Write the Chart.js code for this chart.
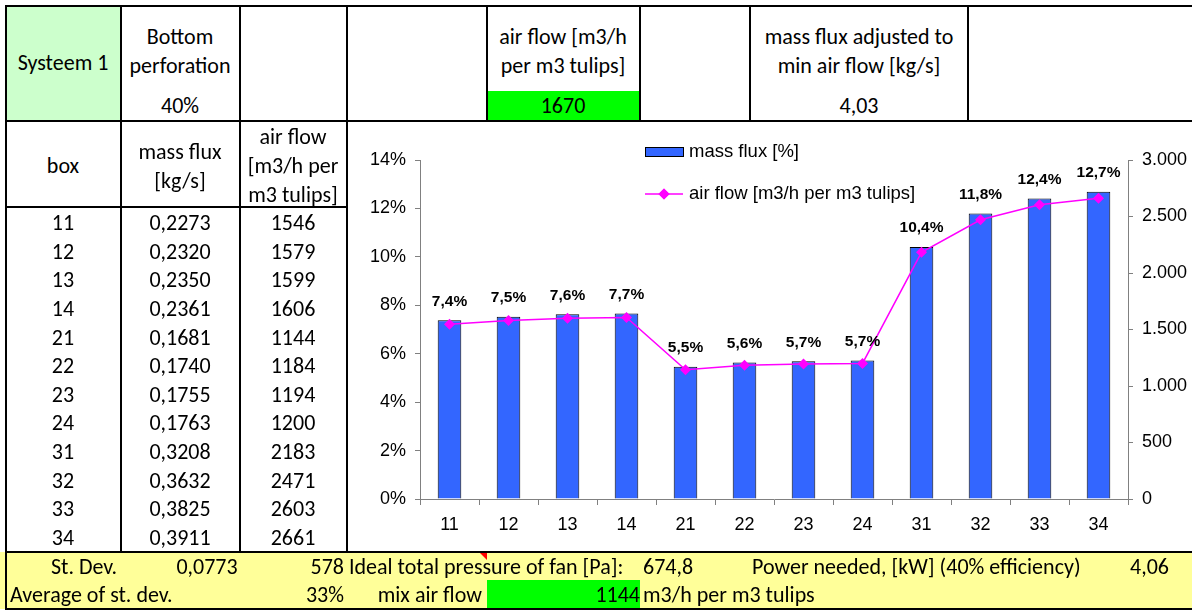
<!DOCTYPE html>
<html><head><meta charset="utf-8">
<script src="https://cdn.jsdelivr.net/npm/chart.js@4.4.1/dist/chart.umd.min.js"></script>
<style>
html,body{margin:0;padding:0;background:#fff;width:1192px;height:610px;overflow:hidden;}
#wrap{position:relative;width:1192px;height:610px;font-family:Carlito,Lato,"Liberation Sans",sans-serif;font-size:22px;color:#000;}
.t{position:absolute;white-space:nowrap;line-height:28px;height:28px;}
.fill{position:absolute;}
.hl{position:absolute;height:2px;background:#000;}
.vl{position:absolute;width:2px;background:#000;}
#chartBox{position:absolute;left:348px;top:122px;width:844px;height:429px;}
</style></head>
<body>
<div id="wrap">
  <div class="fill" style="left:6px;top:6px;width:115px;height:115px;background:#ccffcc"></div>
  <div class="fill" style="left:487px;top:91px;width:153px;height:30px;background:#00ff00"></div>
  <div class="fill" style="left:0px;top:552px;width:1192px;height:57px;background:#ffff99"></div>
  <div class="fill" style="left:487px;top:580px;width:153px;height:28px;background:#00ff00"></div>
  <div id="chartBox"><canvas id="c" width="844" height="429"></canvas></div>
</div>
<script>
// ---- data ----
const boxes = ['11','12','13','14','21','22','23','24','31','32','33','34'];
const massFlux = [0.2273,0.2320,0.2350,0.2361,0.1681,0.1740,0.1755,0.1763,0.3208,0.3632,0.3825,0.3911];
const airFlow = [1546,1579,1599,1606,1144,1184,1194,1200,2183,2471,2603,2661];
const massFluxPct = [7.38,7.53,7.63,7.66,5.46,5.64,5.69,5.72,10.41,11.79,12.41,12.69];
const pctTicks = [0,2,4,6,8,10,12,14];
const airTicks = [0,500,1000,1500,2000,2500,3000];
const seriesNames = ['mass flux [%]','air flow [m3/h per m3 tulips]'];

const headerTexts = {
  systeem:'Systeem 1', perf1:'Bottom', perf2:'perforation', perfVal:'40%',
  af1:'air flow [m3/h', af2:'per m3 tulips]', afVal:'1670',
  mf1:'mass flux adjusted to', mf2:'min air flow [kg/s]', mfVal:'4,03'
};
const colHeads = [['box'],['mass flux','[kg/s]'],['air flow','[m3/h per','m3 tulips]']];
const stats = {stDevLabel:'St. Dev.', stDev:'0,0773', stDevAir:'578', pressLabel:'Ideal total pressure of fan [Pa]:', press:'674,8',
  powerLabel:'Power needed, [kW] (40% efficiency)', power:'4,06', avgLabel:'Average of st. dev.', avg:'33%', mixLabel:'mix air flow', mix:'1144', mixUnit:'m3/h per m3 tulips'};

const wrap = document.getElementById('wrap');
function txt(s, x, yc, align){
  const d = document.createElement('div');
  d.className='t'; d.textContent=s;
  d.style.top=(yc-14)+'px';
  if(align==='c'){ d.style.left=(x-200)+'px'; d.style.width='400px'; d.style.textAlign='center'; }
  else if(align==='r'){ d.style.left=(x-400)+'px'; d.style.width='400px'; d.style.textAlign='right'; }
  else { d.style.left=x+'px'; }
  wrap.appendChild(d);
}
function hl(x1,x2,y){const d=document.createElement('div');d.className='hl';d.style.left=x1+'px';d.style.width=(x2-x1)+'px';d.style.top=(y-1)+'px';wrap.appendChild(d);}
function vl(x,y1,y2){const d=document.createElement('div');d.className='vl';d.style.left=(x-1)+'px';d.style.top=y1+'px';d.style.height=(y2-y1)+'px';wrap.appendChild(d);}

// top row
txt(headerTexts.systeem, 63, 63, 'c');
txt(headerTexts.perf1, 180, 37, 'c');
txt(headerTexts.perf2, 180, 66, 'c');
txt(headerTexts.perfVal, 180, 106, 'c');
txt(headerTexts.af1, 563, 37, 'c');
txt(headerTexts.af2, 563, 66, 'c');
txt(headerTexts.afVal, 563, 106, 'c');
txt(headerTexts.mf1, 859, 37, 'c');
txt(headerTexts.mf2, 859, 66, 'c');
txt(headerTexts.mfVal, 859, 106, 'c');
// column headers
const colCx = [63, 180, 293];
txt(colHeads[0][0], colCx[0], 166, 'c');
txt(colHeads[1][0], colCx[1], 152, 'c');
txt(colHeads[1][1], colCx[1], 181, 'c');
txt(colHeads[2][0], colCx[2], 137, 'c');
txt(colHeads[2][1], colCx[2], 166, 'c');
txt(colHeads[2][2], colCx[2], 195, 'c');
// data rows
boxes.forEach((b,i)=>{
  const y = 223 + i*28.64;
  txt(b, colCx[0], y, 'c');
  txt(massFlux[i].toFixed(4).replace('.',','), colCx[1], y, 'c');
  txt(String(airFlow[i]), colCx[2], y, 'c');
});
// stats rows
txt(stats.stDevLabel, 84, 567, 'c');
txt(stats.stDev, 207, 567, 'c');
txt(stats.stDevAir, 344, 567, 'r');
txt(stats.pressLabel, 349, 567, 'l');
txt(stats.press, 643, 567, 'l');
txt(stats.powerLabel, 752, 567, 'l');
txt(stats.power, 1130, 567, 'l');
txt(stats.avgLabel, 10, 595, 'l');
txt(stats.avg, 344, 595, 'r');
txt(stats.mixLabel, 482, 595, 'r');
txt(stats.mix, 640, 595, 'r');
txt(stats.mixUnit, 643, 595, 'l');

// borders
hl(5,1192,6); hl(5,1192,121); hl(5,348,207); hl(5,1192,552); hl(5,1192,609);
[6,121,240,347,487,640,750,968].forEach(x=>vl(x,5,122));
[6,121,240,347].forEach(x=>vl(x,121,553));
vl(6,552,610);
// comment marker
const tri=document.createElement('div');
tri.style.cssText='position:absolute;left:480px;top:553px;width:0;height:0;border-left:7px solid transparent;border-top:7px solid #ff0000;';
wrap.appendChild(tri);

// ---- chart ----
const fmtPct = v => v.toFixed(1).replace('.',',') + '%';
const fmtThousand = v => String(v).replace(/\B(?=(\d{3})+(?!\d))/g,'.');
const AX = '#808080';
const FONT = '"Liberation Sans", Arial, sans-serif';

const barLabels = {
  id:'barLabels',
  afterDatasetsDraw(chart){
    const meta = chart.getDatasetMeta(1);
    const ctx = chart.ctx;
    ctx.save();
    ctx.font = 'bold 15.5px ' + FONT;
    ctx.fillStyle = '#000'; ctx.textAlign='center'; ctx.textBaseline='middle';
    meta.data.forEach((el,i)=>{ ctx.fillText(fmtPct(massFluxPct[i]), el.x, el.y - 19); });
    ctx.restore();
  }
};
const sideLegend = {
  id:'sideLegend',
  afterDraw(chart){
    const ctx = chart.ctx;
    const bar = chart.data.datasets[1], line = chart.data.datasets[0];
    ctx.save();
    ctx.font = '18.5px ' + FONT;
    ctx.textBaseline='middle'; ctx.textAlign='left'; ctx.fillStyle='#000';
    ctx.fillStyle = bar.backgroundColor; ctx.fillRect(297, 25, 38, 9);
    ctx.strokeStyle = '#000'; ctx.lineWidth = 1; ctx.strokeRect(297.5, 25.5, 38, 9);
    ctx.fillStyle='#000'; ctx.fillText(bar.label, 341, 30);
    ctx.strokeStyle = line.borderColor; ctx.lineWidth = 1.5;
    ctx.beginPath(); ctx.moveTo(297, 72); ctx.lineTo(335, 72); ctx.stroke();
    ctx.fillStyle = line.backgroundColor;
    Chart.helpers.drawPoint(ctx, {pointStyle:'rectRot', radius:5.5, borderWidth:0}, 316, 72);
    ctx.fill();
    ctx.fillStyle='#000'; ctx.fillText(line.label, 341, 72);
    ctx.restore();
  }
};

new Chart(document.getElementById('c'), {
  data:{
    labels: boxes,
    datasets:[
      {type:'line', label:seriesNames[1], data:airFlow, yAxisID:'y1', borderColor:'#ff00ff', backgroundColor:'#ff00ff',
       borderWidth:1.5, pointStyle:'rectRot', pointRadius:5.5, pointBorderWidth:0, pointBackgroundColor:'#ff00ff', tension:0, order:0},
      {type:'bar', label:seriesNames[0], data:massFluxPct, yAxisID:'y', backgroundColor:'#3366ff', borderColor:'#000000',
       borderWidth:1, barPercentage:0.4, categoryPercentage:1, order:1}
    ]
  },
  options:{
    responsive:false, animation:false, maintainAspectRatio:false,
    layout:{padding:{top:38,left:0,right:0,bottom:0}},
    plugins:{legend:{display:false}, tooltip:{enabled:false}},
    scales:{
      x:{ offset:true,
          grid:{offset:true, drawOnChartArea:false, drawTicks:true, tickLength:6, color:AX},
          border:{display:true, color:AX, width:1},
          ticks:{font:{family:FONT, size:18}, color:'#000', padding:9, maxRotation:0, autoSkip:false},
          afterFit(s){ s.height = 52; } },
      y:{ position:'left', min:0, max:14,
          afterBuildTicks(s){ s.ticks = pctTicks.map(v=>({value:v})); },
          ticks:{font:{family:FONT, size:18}, color:'#000', padding:9, callback:v=>v+'%'},
          grid:{drawOnChartArea:false, drawTicks:true, tickLength:5, color:AX},
          border:{display:true, color:AX, width:1},
          afterFit(s){ s.width = 72; } },
      y1:{ position:'right', min:0, max:3000,
          afterBuildTicks(s){ s.ticks = airTicks.map(v=>({value:v})); },
          ticks:{font:{family:FONT, size:18}, color:'#000', padding:9, callback:v=>fmtThousand(v)},
          grid:{drawOnChartArea:false, drawTicks:true, tickLength:5, color:AX},
          border:{display:true, color:AX, width:1},
          afterFit(s){ s.width = 64; } }
    }
  },
  plugins:[barLabels, sideLegend]
});
</script>
</body></html>
